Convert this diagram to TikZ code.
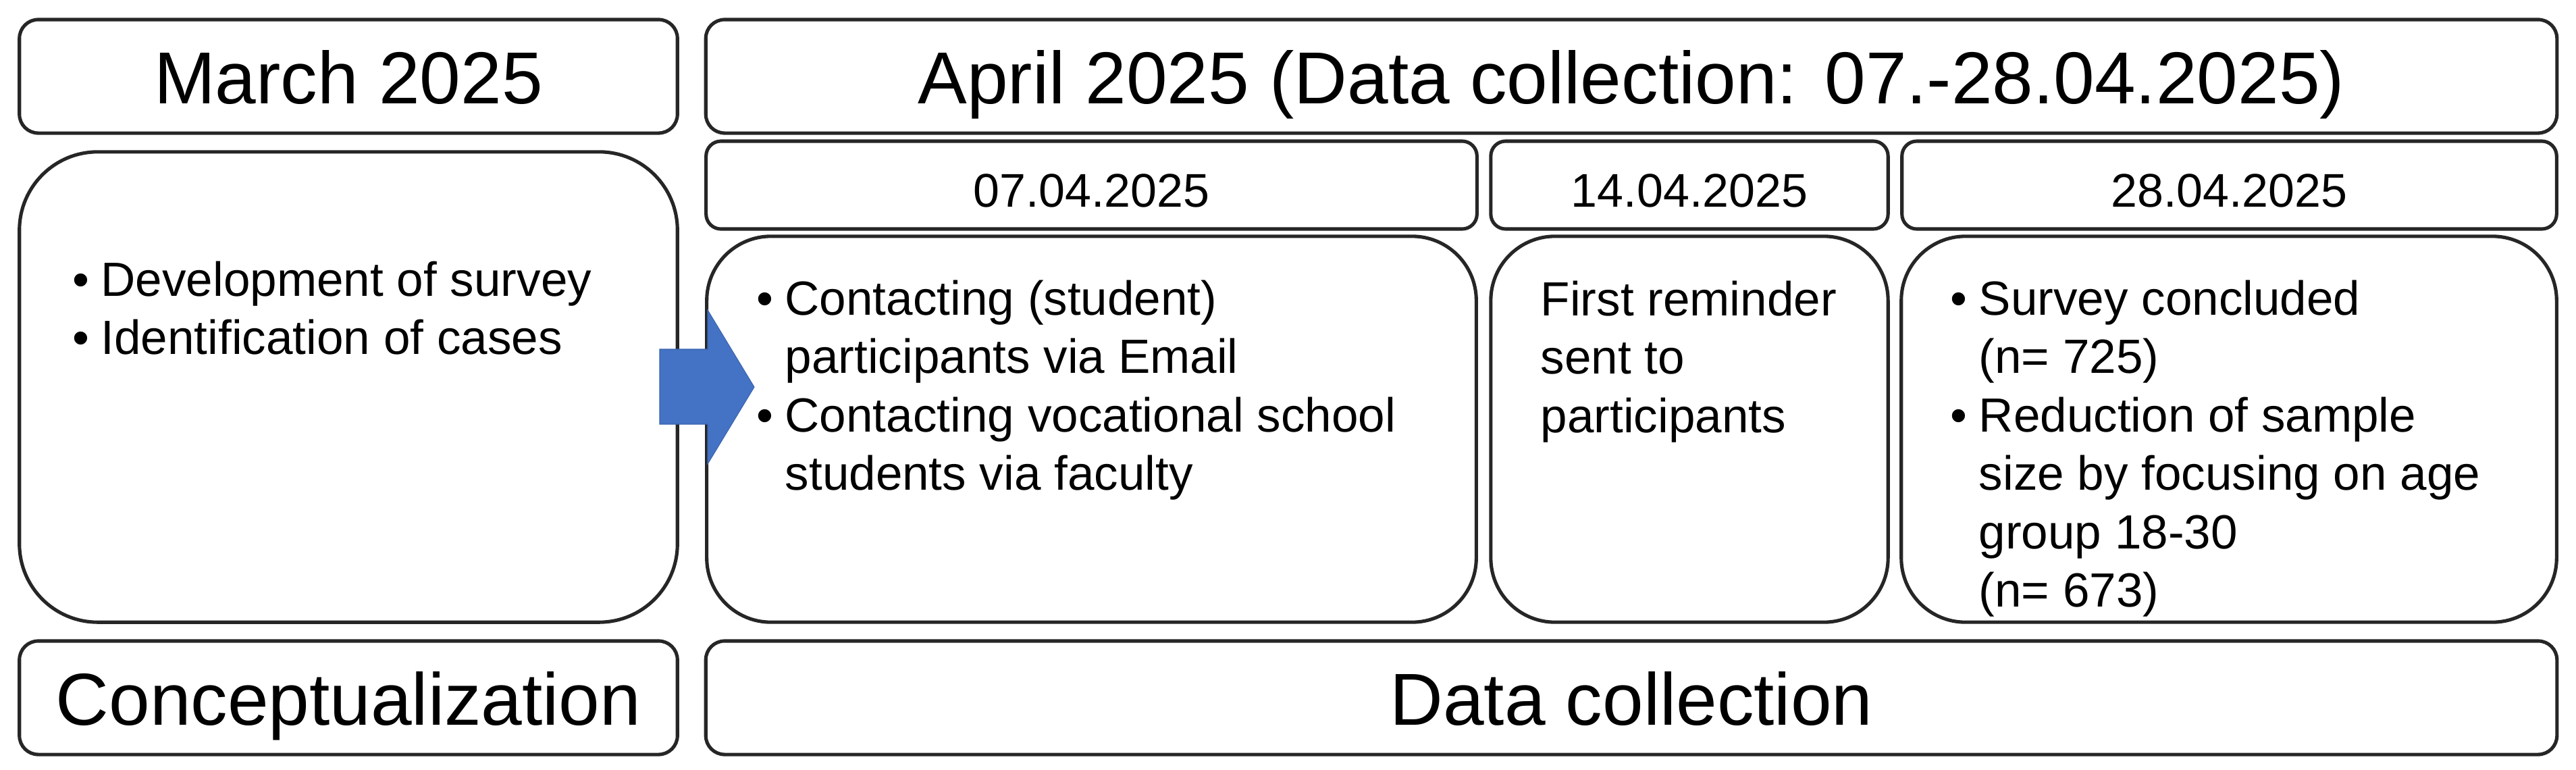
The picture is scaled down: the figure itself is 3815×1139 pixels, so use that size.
\documentclass[tikz,border=0pt]{standalone}
\usepackage{fontspec}
\setmainfont{Liberation Sans}
\definecolor{edge}{HTML}{262626}
\definecolor{arrowblue}{HTML}{4472C4}
\definecolor{arrowedge}{HTML}{3A64AE}
\newcommand{\bu}{\makebox[0.42cm][l]{•}}
\newcommand{\ind}{\makebox[0.42cm][l]{}}
\newcommand{\tline}[1]{\hbox{#1}}
\begin{document}
\begin{tikzpicture}[x=0.01cm,y=-0.01cm,
  boxbase/.style={draw=edge, line width=1.45pt, fill=white, inner sep=0pt, outer sep=0pt},
  headbox/.style={boxbase, rounded corners=0.28cm, minimum height=1.68cm},
  datebox/.style={boxbase, rounded corners=0.22cm, minimum height=1.30cm},
  contbox/.style={boxbase, rounded corners=0.95cm, minimum height=5.71cm},
  bigtext/.style={inner sep=0pt, anchor=base, font=\fontsize{31}{37}\selectfont},
  datetext/.style={inner sep=0pt, anchor=base, font=\fontsize{19.9}{24}\selectfont},
  bodytext/.style={inner sep=0pt, anchor=base west, font=\fontsize{20.2}{24.6}\selectfont},
  blockarrow/.style={fill=arrowblue, draw=arrowedge, line width=0.3pt}
]
\useasboundingbox (0,0) rectangle (3815,1139);
% header row
\node[headbox, minimum width=9.74cm] (mar) at (516,113) {};
\node[headbox, minimum width=27.40cm] (apr) at (2416,113) {};
% date row
\node[datebox, minimum width=11.41cm] (d07) at (1616.5,274) {};
\node[datebox, minimum width=5.88cm] (d14) at (2502,274) {};
\node[datebox, minimum width=9.69cm] (d28) at (3301.5,274) {};
% content row
\node[boxbase, rounded corners=1.16cm, minimum width=9.74cm, minimum height=6.96cm] (cmar) at (516,573) {};
\node[contbox, minimum width=11.39cm] (c07) at (1616.5,635.5) {};
\node[contbox, minimum width=5.88cm] (c14) at (2502,635.5) {};
\node[contbox, minimum width=9.70cm] (c28) at (3301,635.5) {};
% bottom row
\node[headbox, minimum width=9.74cm] (conc) at (516,1033) {};
\node[headbox, minimum width=27.40cm] (dc) at (2416,1033) {};
% texts
\node[bigtext] (tmar) at (516,153) {March 2025};
\node[bigtext] (tapr) at (2416,153) {April 2025 (Data collection: 07.-28.04.2025)};
\node[datetext] (t07) at (1616.5,306) {07.04.2025};
\node[datetext] (t14) at (2502,306) {14.04.2025};
\node[datetext] (t28) at (3301.5,306) {28.04.2025};
\node[bigtext] (tconc) at (516,1073) {Conceptualization};
\node[bigtext] (tdc) at (2416,1073) {Data collection};
\node[bodytext] (bmar) at (107,438) {\vtop{\tline{\bu Development of survey}\tline{\bu Identification of cases}}};
\node[bodytext] (b07) at (1120,466) {\vtop{\tline{\bu Contacting (student)}\tline{\ind participants via Email}\tline{\bu Contacting vocational school}\tline{\ind students via faculty}}};
\node[bodytext] (b14) at (2281,467) {\vtop{\tline{First reminder}\tline{sent to}\tline{participants}}};
\node[bodytext] (b28) at (2888,466) {\vtop{\tline{\bu Survey concluded}\tline{\ind (n= 725)}\tline{\bu Reduction of sample}\tline{\ind size by focusing on age}\tline{\ind group 18-30}\tline{\ind (n= 673)}}};
% block arrow from March content to April content
\draw[blockarrow] (977,517) -- (1048,517) -- (1048,459) -- (1117,573) -- (1048,687) -- (1048,628) -- (977,628) -- cycle;
\end{tikzpicture}
\end{document}
